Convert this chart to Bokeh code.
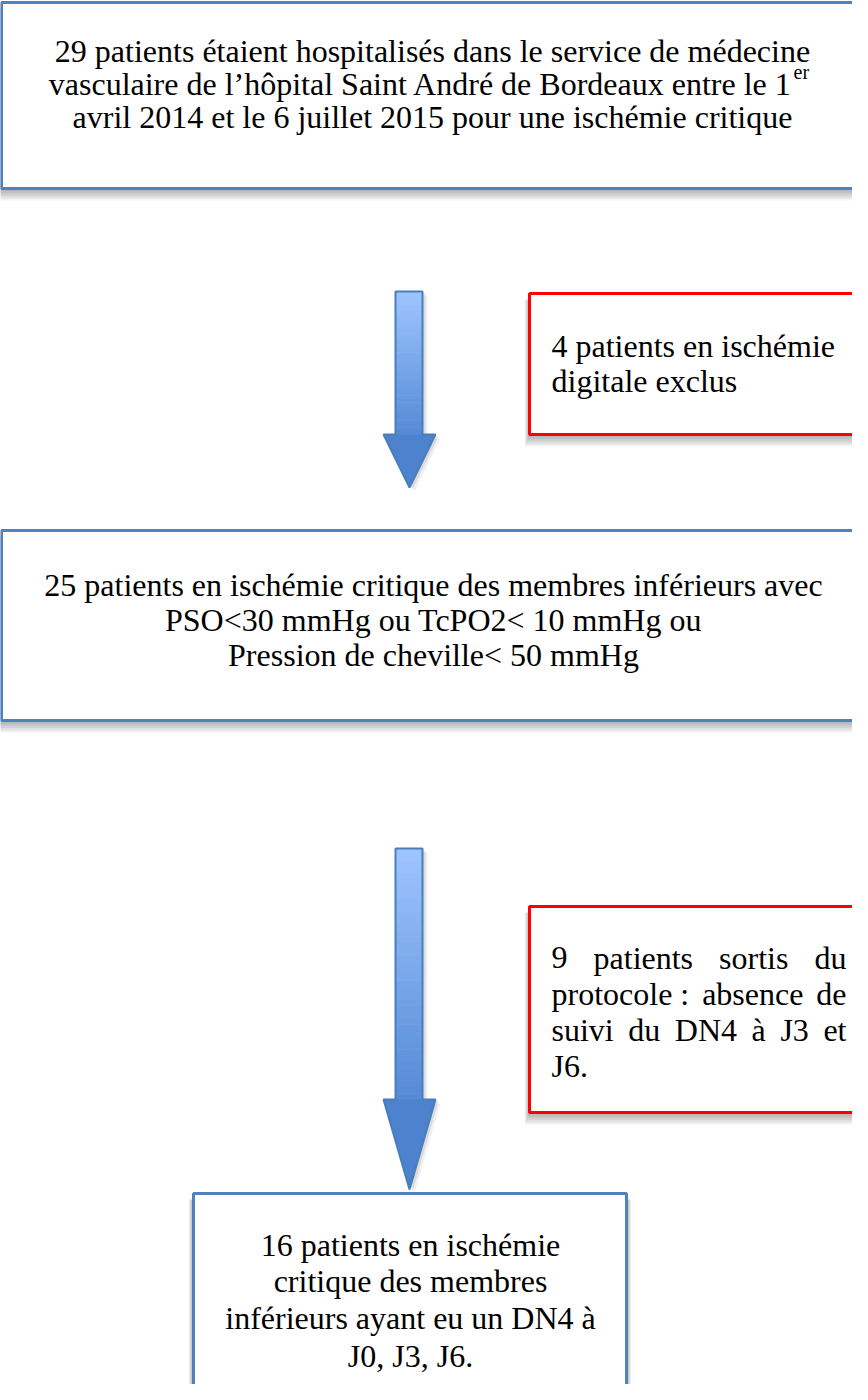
from bokeh.plotting import figure
from bokeh.models import Range1d
from bokeh.embed import file_html
from bokeh.resources import INLINE
from bokeh.core.properties import value

# ---------------- content (texts of the flow chart) ----------------
top_lines = ["29 patients étaient hospitalisés dans le service de médecine",
             "vasculaire de l’hôpital Saint André de Bordeaux entre le 1",
             "avril 2014 et le 6 juillet 2015 pour une ischémie critique"]
top_sup = "er"
excl1_lines = ["4 patients en ischémie", "digitale exclus"]
mid_lines = ["25 patients en ischémie critique des membres inférieurs avec",
             "PSO<30 mmHg ou TcPO2< 10 mmHg ou",
             "Pression de cheville< 50 mmHg"]
excl2_lines = ["9 patients sortis du", "protocole\u00a0: absence de",
               "suivi du DN4 à J3 et", "J6."]
final_lines = ["16 patients en ischémie", "critique des membres",
               "inférieurs ayant eu un DN4 à", "J0, J3, J6."]

# ---------------- layout (page pixel coordinates) ----------------
W, H, OFF = 852, 1384, 8
BLUE = "#4F81BD"
RED = "#FF0000"
FONT = value("Liberation Serif")
FS = 32

p = figure(width=W, height=H, x_range=Range1d(OFF, OFF + W), y_range=Range1d(OFF + H, OFF),
           output_backend="svg", toolbar_location=None, min_border=0,
           x_axis_type=None, y_axis_type=None)
p.grid.visible = False
p.outline_line_color = None
p.background_fill_color = "white"
p.border_fill_color = "white"


def box(x0, y0, x1, y1, color):
    for i in range(1, 9):
        p.quad(left=x0 - 0.6 * i, right=x1 + 0.6 * i, top=y0 + 6, bottom=y1 + 1.5 * i,
               fill_color="black", fill_alpha=0.045, line_color=None)
    p.quad(left=x0, right=x1, top=y0, bottom=y1, fill_color="white",
           line_color=color, line_width=3)


def lerp(c0, c1, t):
    return "#%02x%02x%02x" % tuple(int(round(a + (b - a) * t)) for a, b in zip(c0, c1))


def arrow(top, head_y, tip, sl=403, sr=430, hl=391, hr=443, tx=417):
    xs = [sl, sr, sr, hr, tx, hl, sl]
    ys = [top, top, head_y, head_y, tip, head_y, head_y]
    for d, a in ((5, 0.06), (3, 0.09)):
        p.patch([x + d for x in xs], [y + d - 1 for y in ys], fill_color="black",
                fill_alpha=a, line_color=None)
    n = 40
    step = (head_y - top) / n
    tops = [top + k * step for k in range(n)]
    bots = [top + (k + 1) * step + 0.5 for k in range(n)]
    cols = [lerp((158, 196, 255), (86, 139, 214), k / (n - 1)) for k in range(n)]
    p.quad(left=[sl] * n, right=[sr] * n, top=tops, bottom=bots,
           fill_color=cols, line_color=None)
    p.patch([hl, hr, tx], [head_y, head_y, tip], fill_color="#4C82CE", line_color=None)
    p.patch(xs, ys, fill_alpha=0, line_color="#4A7EBB", line_width=2)


def lines(xs, ys, texts, align="center", size=FS):
    p.text(x=xs, y=ys, text=texts, text_font=FONT, text_font_size=f"{size}px",
           text_align=align, text_baseline="alphabetic", text_color="#000000")


# Times / Liberation Serif advance widths (per 1000 em)
TW = {" ": 250, "\u00a0": 250, ".": 250, ",": 250, ":": 278, "J": 389, "D": 722, "N": 722,
      "à": 444, "a": 444, "b": 500, "c": 444, "d": 500, "e": 444, "f": 333, "g": 500,
      "h": 500, "i": 278, "j": 278, "l": 278, "m": 778, "n": 500, "o": 500, "p": 500,
      "q": 500, "r": 333, "s": 389, "t": 278, "u": 500, "v": 500, "x": 500, "y": 500}


def tw(s, size=FS):
    return sum(TW.get(c, 500) for c in s) / 1000 * size


def justified(x0, x1, ys, texts):
    wx, wy, wt = [], [], []
    for k, (y, t) in enumerate(zip(ys, texts)):
        words = t.split(" ")
        if k == len(texts) - 1 or len(words) == 1:
            wx.append(x0); wy.append(y); wt.append(t)
            continue
        total = sum(tw(w) for w in words)
        gap = (x1 - x0 - total) / (len(words) - 1)
        x = x0
        for w in words:
            wx.append(x); wy.append(y); wt.append(w)
            x += tw(w) + gap
    lines(wx, wy, wt, align="left")


# ---- boxes ----
box(9, 10, 900, 196, BLUE)
box(537, 301, 900, 442, RED)
box(9, 538, 900, 728, BLUE)
box(537, 914, 900, 1120, RED)
box(201, 1201, 634, 1460, BLUE)

# ---- arrows ----
arrow(299, 442, 495)
arrow(856, 1107, 1197)

# ---- texts ----
lines([440, 440], [58, 124], [top_lines[0], top_lines[2]])
lines([800], [91], [top_lines[1]], align="right")
lines([801], [79], [top_sup], align="left", size=20)

lines([559, 559], [353, 388], excl1_lines, align="left")

lines([441, 441, 441], [592, 627, 662], mid_lines)

justified(559, 854, [965, 1001, 1037, 1073], excl2_lines)

lines([418] * 4, [1252, 1288, 1325, 1363], final_lines)

open("out.html", "w").write(file_html(p, INLINE))
